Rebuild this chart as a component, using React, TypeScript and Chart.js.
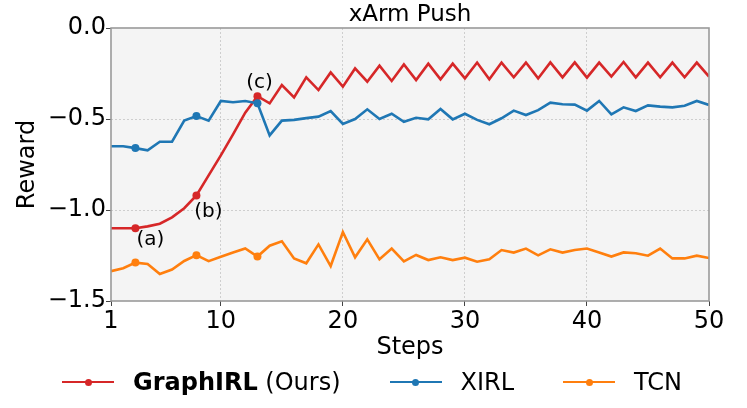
import { useEffect, useRef } from 'react';
import { Chart, registerables } from 'chart.js';

Chart.register(...registerables);

// steps on the x axis
const steps = [
  1, 2, 3, 4, 5, 6, 7, 8, 9, 10,
  11, 12, 13, 14, 15, 16, 17, 18, 19, 20,
  21, 22, 23, 24, 25, 26, 27, 28, 29, 30,
  31, 32, 33, 34, 35, 36, 37, 38, 39, 40,
  41, 42, 43, 44, 45, 46, 47, 48, 49, 50,
];

const graphirl = [
  -1.10, -1.10, -1.10, -1.09, -1.075, -1.04, -0.99, -0.92, -0.81, -0.70,
  -0.585, -0.465, -0.375, -0.414, -0.313, -0.381, -0.271, -0.341, -0.244, -0.322,
  -0.222, -0.295, -0.207, -0.291, -0.20, -0.286, -0.196, -0.282, -0.196, -0.277,
  -0.19, -0.282, -0.19, -0.271, -0.19, -0.277, -0.189, -0.271, -0.189, -0.273,
  -0.19, -0.267, -0.187, -0.271, -0.19, -0.271, -0.19, -0.271, -0.19, -0.267,
];

const xirl = [
  -0.65, -0.65, -0.66, -0.672, -0.625, -0.625, -0.509, -0.484, -0.509, -0.401,
  -0.408, -0.401, -0.414, -0.59, -0.509, -0.505, -0.495, -0.487, -0.456, -0.527,
  -0.50, -0.447, -0.50, -0.471, -0.515, -0.493, -0.502, -0.445, -0.502, -0.471,
  -0.505, -0.529, -0.496, -0.454, -0.478, -0.451, -0.41, -0.419, -0.421, -0.454,
  -0.401, -0.474, -0.436, -0.456, -0.425, -0.432, -0.436, -0.427, -0.401, -0.423,
];

const tcn = [
  -1.336, -1.32, -1.289, -1.297, -1.352, -1.327, -1.28, -1.248, -1.281, -1.257,
  -1.233, -1.211, -1.256, -1.196, -1.172, -1.266, -1.293, -1.189, -1.308, -1.121,
  -1.26, -1.161, -1.271, -1.212, -1.282, -1.247, -1.275, -1.26, -1.275, -1.262,
  -1.284, -1.271, -1.22, -1.234, -1.212, -1.249, -1.216, -1.234, -1.22, -1.212,
  -1.233, -1.256, -1.233, -1.238, -1.251, -1.212, -1.266, -1.266, -1.251, -1.264,
];

const seriesNames = ['GraphIRL', 'XIRL', 'TCN'];
const oursSuffix = ' (Ours)';
const seriesColors = ['#d62728', '#1f77b4', '#ff7f0e'];

const markedSteps = [3, 8, 13];
const annotationLabels = ['(a)', '(b)', '(c)'];
// offsets of each annotation from its red marker
const annotationOffsets = [
  { dx: 15, dy: 12 },
  { dx: 12, dy: 16 },
  { dx: 2, dy: -13 },
];

const xTicks = [1, 10, 20, 30, 40, 50];
const yTicks = [0, -0.5, -1.0, -1.5];
const yTickLabels = ['0.0', '\u22120.5', '\u22121.0', '\u22121.5'];

const FONT = 'DejaVu Sans';
const GRID = '#c4c4c4';
const NONE = 'rgba(0,0,0,0)';

const framePlugin = {
  id: 'frame',
  beforeDraw(chart: any) {
    const { ctx, chartArea: a } = chart;
    ctx.save();
    ctx.fillStyle = '#f4f4f4';
    ctx.fillRect(a.left, a.top, a.right - a.left, a.bottom - a.top);
    ctx.restore();
  },
  afterDatasetsDraw(chart: any) {
    const { ctx, chartArea: a } = chart;
    ctx.save();
    ctx.strokeStyle = '#9a9a9a';
    ctx.lineWidth = 1.6;
    ctx.strokeRect(a.left, a.top, a.right - a.left, a.bottom - a.top);

    const meta = chart.getDatasetMeta(0);
    ctx.fillStyle = '#000';
    ctx.font = `20px "${FONT}"`;
    ctx.textAlign = 'center';
    ctx.textBaseline = 'middle';
    markedSteps.forEach((s, i) => {
      const pt = meta.data[steps.indexOf(s)];
      if (!pt) return;
      ctx.fillText(annotationLabels[i], pt.x + annotationOffsets[i].dx, pt.y + annotationOffsets[i].dy);
    });
    ctx.restore();
  },
};

const markerRadius = (c: any) => (markedSteps.includes(steps[c.dataIndex]) ? 4 : 0);

const App = () => {
  const chartRef = useRef<HTMLCanvasElement | null>(null);

  useEffect(() => {
    const values = [graphirl, xirl, tcn];
    const chart = new Chart(chartRef.current!, {
      type: 'line',
      data: {
        datasets: values.map((v, k) => ({
          label: seriesNames[k],
          data: steps.map((s, i) => ({ x: s, y: v[i] })),
          borderColor: seriesColors[k],
          backgroundColor: seriesColors[k],
          borderWidth: 2.6,
          pointRadius: markerRadius,
          pointHoverRadius: markerRadius,
          pointBorderWidth: 0,
          tension: 0,
          // later series drawn on top, like the plotting order
          order: values.length - 1 - k,
        })),
      },
      options: {
        responsive: false,
        animation: false,
        events: [],
        layout: { padding: { left: 0, right: 38, top: 0, bottom: 47 } },
        plugins: {
          legend: { display: false },
          tooltip: { enabled: false },
          title: {
            display: true,
            text: 'xArm Push',
            color: '#000',
            fullSize: false,
            font: { family: FONT, size: 23, weight: 'normal', lineHeight: 1 },
            padding: { top: 4, bottom: 1 },
          },
        },
        scales: {
          x: {
            type: 'linear',
            min: 1,
            max: 50,
            afterBuildTicks: (s: any) => {
              s.ticks = xTicks.map((v) => ({ value: v }));
            },
            afterFit: (s: any) => {
              s.height = 60;
            },
            ticks: {
              color: '#000',
              font: { family: FONT, size: 24 },
              padding: 1,
              maxRotation: 0,
              autoSkip: false,
              callback: (v: any) => String(v),
            },
            grid: {
              color: (c: any) => (c.tick && (c.tick.value === 1 || c.tick.value === 50) ? NONE : GRID),
              lineWidth: 0.8,
              tickColor: '#444',
              tickLength: 5,
              tickWidth: 1,
            },
            border: { display: false, dash: [2, 2] },
            title: {
              display: true,
              text: 'Steps',
              color: '#000',
              font: { family: FONT, size: 24, lineHeight: 1 },
              padding: { top: 0, bottom: 1.2 },
            },
          },
          y: {
            min: -1.5,
            max: 0,
            afterBuildTicks: (s: any) => {
              s.ticks = yTicks.map((v) => ({ value: v }));
            },
            afterFit: (s: any) => {
              s.width = 111;
            },
            ticks: {
              color: '#000',
              font: { family: FONT, size: 24 },
              padding: 0,
              callback: (v: any) => yTickLabels[yTicks.indexOf(v)],
            },
            grid: {
              color: (c: any) => (c.tick && (c.tick.value === 0 || c.tick.value === -1.5) ? NONE : GRID),
              lineWidth: 0.8,
              tickColor: '#444',
              tickLength: 5,
              tickWidth: 1,
            },
            border: { display: false, dash: [2, 2] },
            title: {
              display: true,
              text: 'Reward',
              color: '#000',
              font: { family: FONT, size: 24, lineHeight: 1 },
              padding: { top: 16, bottom: 0 },
            },
          },
        },
      },
      plugins: [framePlugin],
    } as any);
    return () => {
      chart.destroy();
    };
  }, []);

  return (
    <div style={{ position: 'absolute', left: 0, top: 0, width: 747, height: 408, background: '#fff' }}>
      <canvas ref={chartRef} width={747} height={408} style={{ display: 'block' }} />
      <div
        style={{
          position: 'absolute',
          left: 62,
          top: 368,
          height: 28,
          display: 'flex',
          alignItems: 'center',
          fontFamily: FONT,
          fontSize: 24,
          lineHeight: '28px',
          whiteSpace: 'nowrap',
          color: '#000',
        }}
      >
        {seriesNames.map((name, k) => (
          <div key={name} style={{ display: 'flex', alignItems: 'center', marginRight: 49 }}>
            <span
              style={{
                position: 'relative',
                display: 'inline-block',
                width: 52,
                height: 2.6,
                background: seriesColors[k],
                marginRight: 19,
              }}
            >
              <span
                style={{
                  position: 'absolute',
                  left: 22.5,
                  top: -2.2,
                  width: 7,
                  height: 7,
                  borderRadius: '50%',
                  background: seriesColors[k],
                }}
              />
            </span>
            <span>
              {k === 0 ? (
                <>
                  <b>{name}</b>
                  {oursSuffix}
                </>
              ) : (
                name
              )}
            </span>
          </div>
        ))}
      </div>
    </div>
  );
};

export default App;
